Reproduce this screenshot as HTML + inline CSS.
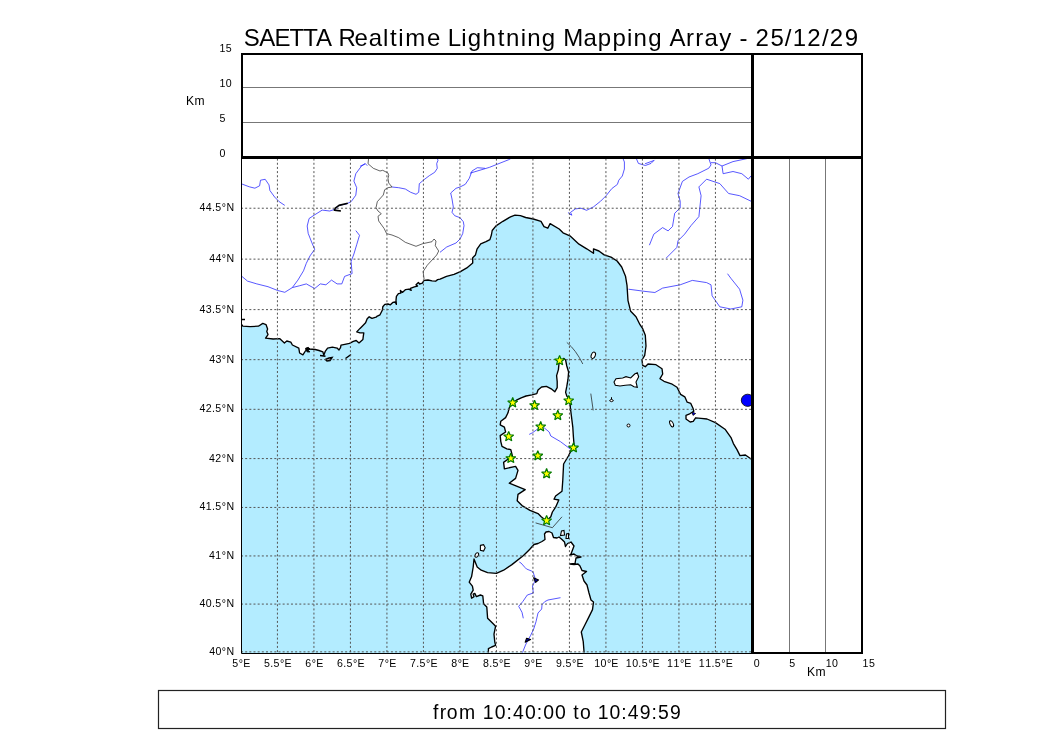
<!DOCTYPE html>
<html><head><meta charset="utf-8"><style>
html,body{margin:0;padding:0;background:#fff;width:1050px;height:750px;overflow:hidden}
svg{display:block;will-change:transform;font-family:"Liberation Sans",sans-serif;fill:#000}
</style></head><body>
<svg width="1050" height="750" viewBox="0 0 1050 750">
<rect width="1050" height="750" fill="#fff"/>
<text x="243.81 259.31 274.50 289.49 303.30 315.91 332.16 338.51 354.51 368.67 383.00 389.99 398.30 405.34 426.91 441.01 447.77 461.37 467.82 482.49 497.72 506.12 520.71 527.15 541.84 556.20 563.16 583.38 597.82 612.49 627.07 633.51 648.20 662.56 669.45 686.12 695.32 704.55 719.16 732.23 739.40 747.90 755.57 770.38 784.82 792.64 807.32 822.02 829.84 844.64" y="45.70" font-size="24.0" >SAETTA Realtime Lightning Mapping Array - 25/12/29</text>
<defs><clipPath id="mc"><rect x="241.15" y="156.5" width="510.5" height="496.5"/></clipPath></defs>
<g clip-path="url(#mc)">
<path d="M241.5,324.5 L242.8,326.2 L250.0,326.6 L258.4,326.2 L262.8,323.4 L266.0,324.6 L267.6,329.0 L266.8,331.4 L268.0,334.6 L265.6,338.2 L273.2,339.0 L279.6,338.6 L284.4,343.0 L286.8,341.0 L290.8,342.2 L292.4,345.0 L298.8,348.2 L299.6,353.0 L302.9,354.8 L305.7,350.5 L307.1,348.1 L309.5,349.0 L315.2,349.5 L319.0,350.5 L322.9,351.9 L323.8,355.2 L325.2,351.4 L327.6,348.1 L332.4,347.1 L337.1,348.1 L339.0,350.0 L340.5,347.6 L341.0,345.2 L344.8,344.3 L349.5,343.3 L353.3,341.4 L356.2,340.5 L359.0,342.9 L362.9,339.5 L363.3,336.2 L363.8,332.9 L360.0,332.9 L356.7,331.9 L360.0,328.4 L363.2,325.2 L365.6,322.8 L367.2,318.8 L369.2,316.8 L372.0,318.4 L376.0,317.2 L376.8,316.4 L380.0,314.8 L382.4,310.0 L382.8,306.8 L384.8,304.4 L388.0,304.0 L390.4,304.8 L392.8,302.4 L395.2,302.0 L396.4,304.4 L396.0,300.4 L396.4,296.4 L398.4,293.6 L400.8,293.2 L400.4,290.4 L402.4,292.4 L405.6,289.6 L408.8,289.2 L411.2,290.4 L410.4,288.4 L414.4,286.8 L417.6,286.0 L416.0,284.8 L418.4,282.4 L419.6,284.0 L422.4,283.2 L424.0,280.4 L428.0,280.0 L432.0,280.8 L435.6,281.2 L437.6,279.6 L440.1,279.1 L446.5,276.4 L454.0,274.3 L460.4,271.6 L466.8,267.9 L472.7,263.1 L472.7,257.7 L475.4,255.1 L477.0,249.2 L480.7,243.9 L486.0,241.7 L489.9,239.6 L491.4,235.0 L492.2,230.5 L496.0,225.9 L502.9,221.3 L510.5,216.8 L515.0,215.2 L520.4,215.7 L525.7,217.5 L533.3,219.0 L541.0,221.3 L544.0,226.7 L547.8,228.2 L550.1,223.6 L559.2,229.0 L563.0,232.8 L569.9,235.8 L579.0,244.2 L586.7,248.8 L593.5,253.3 L593.5,248.8 L598.9,251.0 L604.2,254.9 L611.0,257.1 L617.1,261.0 L621.7,267.0 L625.5,276.2 L627.0,285.3 L628.0,300.7 L630.7,311.3 L636.0,316.7 L640.0,324.7 L642.7,328.7 L645.3,335.3 L646.0,346.0 L644.7,355.3 L642.0,360.0 L642.7,365.3 L645.3,366.7 L648.0,364.0 L656.0,364.7 L662.0,368.7 L662.7,374.0 L660.0,378.7 L664.0,381.3 L672.2,384.2 L677.0,387.2 L679.4,392.0 L680.6,394.4 L684.8,396.8 L687.2,402.2 L690.8,403.4 L693.2,408.8 L693.8,411.2 L689.0,414.2 L686.0,415.4 L686.0,419.0 L690.2,422.0 L693.2,421.4 L695.6,417.8 L701.0,418.4 L707.0,419.0 L715.4,422.6 L725.0,429.2 L731.0,437.6 L733.4,443.6 L737.0,449.6 L740.0,455.6 L745.4,455.0 L751.5,459.3 L751.5,653 L241,653 Z" fill="#b3ecff" stroke="none"/>
<path d="M241.5,324.5 L242.8,326.2 L250.0,326.6 L258.4,326.2 L262.8,323.4 L266.0,324.6 L267.6,329.0 L266.8,331.4 L268.0,334.6 L265.6,338.2 L273.2,339.0 L279.6,338.6 L284.4,343.0 L286.8,341.0 L290.8,342.2 L292.4,345.0 L298.8,348.2 L299.6,353.0 L302.9,354.8 L305.7,350.5 L307.1,348.1 L309.5,349.0 L315.2,349.5 L319.0,350.5 L322.9,351.9 L323.8,355.2 L325.2,351.4 L327.6,348.1 L332.4,347.1 L337.1,348.1 L339.0,350.0 L340.5,347.6 L341.0,345.2 L344.8,344.3 L349.5,343.3 L353.3,341.4 L356.2,340.5 L359.0,342.9 L362.9,339.5 L363.3,336.2 L363.8,332.9 L360.0,332.9 L356.7,331.9 L360.0,328.4 L363.2,325.2 L365.6,322.8 L367.2,318.8 L369.2,316.8 L372.0,318.4 L376.0,317.2 L376.8,316.4 L380.0,314.8 L382.4,310.0 L382.8,306.8 L384.8,304.4 L388.0,304.0 L390.4,304.8 L392.8,302.4 L395.2,302.0 L396.4,304.4 L396.0,300.4 L396.4,296.4 L398.4,293.6 L400.8,293.2 L400.4,290.4 L402.4,292.4 L405.6,289.6 L408.8,289.2 L411.2,290.4 L410.4,288.4 L414.4,286.8 L417.6,286.0 L416.0,284.8 L418.4,282.4 L419.6,284.0 L422.4,283.2 L424.0,280.4 L428.0,280.0 L432.0,280.8 L435.6,281.2 L437.6,279.6 L440.1,279.1 L446.5,276.4 L454.0,274.3 L460.4,271.6 L466.8,267.9 L472.7,263.1 L472.7,257.7 L475.4,255.1 L477.0,249.2 L480.7,243.9 L486.0,241.7 L489.9,239.6 L491.4,235.0 L492.2,230.5 L496.0,225.9 L502.9,221.3 L510.5,216.8 L515.0,215.2 L520.4,215.7 L525.7,217.5 L533.3,219.0 L541.0,221.3 L544.0,226.7 L547.8,228.2 L550.1,223.6 L559.2,229.0 L563.0,232.8 L569.9,235.8 L579.0,244.2 L586.7,248.8 L593.5,253.3 L593.5,248.8 L598.9,251.0 L604.2,254.9 L611.0,257.1 L617.1,261.0 L621.7,267.0 L625.5,276.2 L627.0,285.3 L628.0,300.7 L630.7,311.3 L636.0,316.7 L640.0,324.7 L642.7,328.7 L645.3,335.3 L646.0,346.0 L644.7,355.3 L642.0,360.0 L642.7,365.3 L645.3,366.7 L648.0,364.0 L656.0,364.7 L662.0,368.7 L662.7,374.0 L660.0,378.7 L664.0,381.3 L672.2,384.2 L677.0,387.2 L679.4,392.0 L680.6,394.4 L684.8,396.8 L687.2,402.2 L690.8,403.4 L693.2,408.8 L693.8,411.2 L689.0,414.2 L686.0,415.4 L686.0,419.0 L690.2,422.0 L693.2,421.4 L695.6,417.8 L701.0,418.4 L707.0,419.0 L715.4,422.6 L725.0,429.2 L731.0,437.6 L733.4,443.6 L737.0,449.6 L740.0,455.6 L745.4,455.0 L751.5,459.3" stroke="#000" stroke-width="1.35" fill="none" stroke-linejoin="round"/>
<path d="M563.6,358.4 L565.6,360.0 L566.8,366.0 L568.6,372.0 L568.0,379.2 L566.8,386.4 L565.6,392.4 L566.8,396.0 L569.8,399.6 L570.4,408.0 L571.6,417.6 L572.8,427.2 L573.4,436.8 L574.0,444.0 L573.2,446.4 L568.4,456.0 L563.6,464.0 L562.8,480.0 L562.0,491.2 L555.6,496.0 L554.0,499.2 L558.8,500.0 L555.6,507.2 L552.4,512.0 L550.8,516.8 L547.6,520.0 L544.4,519.2 L541.2,516.8 L538.0,513.6 L530.0,510.4 L522.0,505.6 L517.2,500.8 L518.0,494.4 L525.2,489.6 L517.2,486.4 L509.2,483.2 L515.6,478.4 L518.0,470.4 L515.6,466.4 L504.4,468.8 L503.6,462.4 L512.4,456.0 L510.8,449.6 L506.8,448.8 L502.0,446.4 L500.8,441.6 L500.2,435.6 L505.6,432.0 L504.4,427.2 L500.2,424.8 L500.8,421.2 L505.6,417.6 L508.0,412.8 L509.2,408.0 L511.6,403.2 L516.4,400.2 L521.2,397.8 L526.0,396.0 L532.0,394.8 L536.8,393.6 L538.0,390.0 L541.6,387.0 L546.4,386.4 L551.2,388.8 L554.8,391.8 L557.2,387.6 L557.2,381.6 L556.6,375.6 L558.4,369.6 L559.0,363.6Z" fill="#fff" stroke="#000" stroke-width="1.35" stroke-linejoin="round"/>
<path d="M488.4,652.5 L488.4,648.6 L491.6,647.0 L495.6,645.4 L494.8,642.2 L494.0,634.2 L495.6,626.2 L493.2,623.8 L487.6,618.2 L486.8,607.0 L483.6,603.8 L482.8,595.8 L480.4,595.0 L476.4,596.6 L474.8,593.4 L473.2,594.2 L474.0,596.6 L471.6,598.2 L470.8,594.2 L473.2,590.2 L472.4,586.2 L469.2,582.2 L471.6,576.6 L473.2,567.0 L474.0,559.0 L477.2,567.0 L481.2,570.2 L487.6,572.6 L496.4,573.4 L503.6,570.2 L511.9,564.6 L523.5,555.5 L529.1,549.9 L530.0,549.0 L534.0,544.5 L538.0,543.5 L542.0,541.5 L545.0,539.5 L544.5,534.0 L546.0,532.0 L549.0,531.5 L552.0,533.0 L553.5,537.5 L557.0,538.0 L559.0,537.0 L562.0,539.5 L564.5,542.0 L565.5,546.5 L567.5,543.5 L571.0,542.0 L574.0,546.0 L572.5,550.0 L571.0,554.0 L570.0,555.0 L574.0,554.0 L577.0,556.0 L581.0,557.0 L576.0,558.0 L575.0,563.5 L570.0,564.0 L574.0,564.5 L578.0,564.0 L580.0,566.0 L582.0,570.5 L586.5,571.5 L582.0,575.0 L584.0,581.0 L587.0,585.0 L589.0,593.0 L591.0,600.0 L593.5,602.1 L592.5,609.6 L588.8,617.1 L585.1,624.5 L581.3,632.0 L583.2,641.3 L584.1,652.5" fill="#fff" stroke="#000" stroke-width="1.35" stroke-linejoin="round"/>
<path d="M614.0,382.0 L616.0,378.7 L622.7,378.0 L626.0,376.7 L630.7,378.0 L634.7,374.0 L637.3,372.7 L638.7,376.7 L636.0,382.0 L637.3,387.3 L634.0,386.7 L630.7,384.7 L625.3,385.3 L620.0,386.0 L615.3,385.3Z" fill="#fff" stroke="#000" stroke-width="1.1"/>
<path d="M241.9,184.0 L249.3,186.8 L254.9,188.2 L259.6,185.8 L260.5,180.2 L265.2,179.3 L269.0,184.9 L269.9,190.5 L274.6,197.0 L279.2,201.7 L284.8,205.4" stroke="#2020ff" stroke-width="0.75" fill="none" stroke-linejoin="round"/>
<path d="M365.3,163.7 L361.4,166.2 L355.8,173.7 L353.9,181.1 L356.7,187.7 L355.8,195.2 L351.1,201.7 L346.5,203.9 L339.0,205.4 L335.3,209.2 L329.7,211.0 L322.2,210.1 L314.7,214.8 L309.1,218.5 L307.2,226.0 L308.2,233.4 L311.9,242.8 L314.7,249.3 L310.0,255.9 L306.3,263.3 L303.5,270.8 L297.9,280.1 L292.3,287.6" stroke="#2020ff" stroke-width="0.75" fill="none" stroke-linejoin="round"/>
<path d="M360.0,166.3 L365.3,163.7 L367.3,165.7" stroke="#2020ff" stroke-width="0.75" fill="none" stroke-linejoin="round"/>
<path d="M241.9,276.4 L247.5,281.1 L256.8,283.9 L268.0,286.7 L277.4,290.4 L284.8,292.3 L292.3,287.6 L299.8,285.7 L306.3,283.9 L314.7,288.5 L320.3,283.9 L325.9,284.8 L331.5,280.1 L337.1,283.9 L341.8,283.9 L344.6,276.4 L352.1,273.6 L351.1,261.5 L353.9,254.0 L356.7,244.7 L359.5,235.3 L355.8,230.6" stroke="#2020ff" stroke-width="0.75" fill="none" stroke-linejoin="round"/>
<path d="M392.0,187.0 L398.7,187.7 L405.3,189.0 L410.7,192.3 L416.0,194.3 L418.7,192.3 L419.3,183.7 L424.0,179.7 L429.3,175.7 L434.7,172.3 L437.3,168.3 L436.7,163.7 L438.0,160.3 L437.3,158.5" stroke="#2020ff" stroke-width="0.75" fill="none" stroke-linejoin="round"/>
<path d="M485.0,168.3 L477.3,167.7 L472.0,171.0 L469.3,178.3 L465.3,184.3 L460.0,187.0 L456.0,188.3 L450.7,193.0 L452.0,199.0 L453.3,207.0 L452.0,212.3 L454.7,215.7 L460.0,217.7 L463.3,221.7 L464.0,225.7 L462.7,233.7 L460.0,239.0 L456.0,243.0 L446.7,247.0 L440.0,252.3" stroke="#2020ff" stroke-width="0.75" fill="none" stroke-linejoin="round"/>
<path d="M470.0,173.2 L489.3,167.4 L508.7,159.7 L512.5,157.5" stroke="#2020ff" stroke-width="0.75" fill="none" stroke-linejoin="round"/>
<path d="M623.0,158.5 L624.4,162.0 L624.4,169.0 L622.3,176.0 L618.8,180.2 L617.4,184.4 L611.8,188.6 L606.2,195.6 L600.6,201.2 L593.6,206.8 L586.6,210.3 L581.0,208.2 L575.4,208.9 L570.5,212.4 L571.9,215.2 L569.1,213.8 L568.4,212.4" stroke="#2020ff" stroke-width="0.75" fill="none" stroke-linejoin="round"/>
<path d="M636.3,158.5 L638.4,163.4 L645.4,165.5 L651.0,163.4 L654.5,159.9" stroke="#2020ff" stroke-width="0.75" fill="none" stroke-linejoin="round"/>
<path d="M645.0,163.8 L653.8,160.5" stroke="#2020ff" stroke-width="0.75" fill="none" stroke-linejoin="round"/>
<path d="M708.8,158.5 L711.0,164.9 L708.8,168.2 L697.8,173.7 L689.0,177.0 L682.4,181.4 L678.0,193.5 L680.2,201.2 L680.2,207.8 L674.7,213.3 L672.5,226.5 L668.1,230.9 L662.6,227.6 L653.8,234.2 L649.4,245.2" stroke="#2020ff" stroke-width="0.75" fill="none" stroke-linejoin="round"/>
<path d="M711.0,162.7 L715.4,162.7 L722.0,166.0 L723.1,173.7 L733.0,171.5 L741.8,173.7 L748.4,179.2 L751.0,175.9" stroke="#2020ff" stroke-width="0.75" fill="none" stroke-linejoin="round"/>
<path d="M722.0,166.0 L733.0,161.6 L748.4,158.3" stroke="#2020ff" stroke-width="0.75" fill="none" stroke-linejoin="round"/>
<path d="M751.0,201.2 L739.6,195.7 L728.6,193.5 L719.8,183.6 L706.6,179.2 L698.9,186.9 L701.1,195.7 L698.9,216.6 L691.2,225.4 L684.6,234.2 L678.0,240.8 L676.9,247.4 L665.9,258.4" stroke="#2020ff" stroke-width="0.75" fill="none" stroke-linejoin="round"/>
<path d="M628.5,289.2 L645.0,291.4 L654.9,292.5 L662.6,288.1 L680.2,284.8 L692.3,280.4 L706.6,282.6 L711.0,284.8 L712.1,295.8 L719.8,306.8 L730.8,309.0 L741.8,306.8 L742.9,300.2 L739.6,289.2 L730.8,278.2 L727.5,273.7" stroke="#2020ff" stroke-width="0.75" fill="none" stroke-linejoin="round"/>
<path d="M519.3,562.0 L521.0,563.0 L525.0,567.5 L526.5,569.0 L531.5,571.0 L533.3,572.5 L534.0,575.0 L535.6,579.5 L535.0,581.0 L532.5,586.0 L533.3,593.0 L527.3,595.0 L522.7,601.7 L518.7,606.3 L522.0,612.3 L523.3,618.3" stroke="#2020ff" stroke-width="0.75" fill="none" stroke-linejoin="round"/>
<path d="M560.5,597.7 L548.0,600.0 L544.7,601.7 L542.0,604.7 L541.7,609.0 L538.0,613.0 L536.0,621.7 L533.7,629.0 L530.7,635.3 L528.0,640.0 L525.5,645.0 L522.5,652.5" stroke="#2020ff" stroke-width="0.75" fill="none" stroke-linejoin="round"/>
<path d="M529.2,434.4 L532.4,432.8 L538.0,428.8 L544.4,428.0 L549.2,432.0 L550.8,436.0 L560.4,441.6 L570.0,448.8" stroke="#2020ff" stroke-width="0.75" fill="none" stroke-linejoin="round"/>
<path d="M368.7,157.5 L368.0,163.7 L373.3,168.3 L380.0,171.0 L382.7,170.3 L388.0,173.0 L388.7,175.7 L388.0,178.3 L388.7,183.0 L392.0,187.0 L388.0,187.7 L384.7,189.7 L383.3,195.0 L377.3,201.7 L376.0,207.7 L378.0,211.0 L381.3,213.7 L378.0,216.3 L378.7,221.0 L384.0,228.3 L386.7,233.7 L392.0,235.0 L398.7,237.7 L405.3,242.3 L416.0,246.3 L422.7,243.7 L432.0,241.7 L434.0,239.0 L436.0,241.0 L435.3,245.7 L438.7,251.0 L436.7,255.0 L427.3,265.2 L423.1,271.6 L424.1,279.1" stroke="#222" stroke-width="0.7" fill="none" stroke-linejoin="round"/>
<path d="M533.6,577.8 L538.6,579.9 L535.7,582.4 Z M525.2,642.3 L526.6,638.2 L530.6,639.6 Z" fill="#0000b0" stroke="#000" stroke-width="1.1" stroke-linejoin="round"/>
<path d="M480.4,545.4 L483.6,544.6 L485.2,547.8 L483.6,551 L480.4,550.2 Z" fill="#fff" stroke="#000" stroke-width="1.1"/>
<ellipse cx="476.8" cy="555" rx="1.6" ry="2.4" fill="#fff" stroke="#000" stroke-width="1" transform="rotate(30 476.8 555)"/>
<path d="M560.5,535.5 L561.5,531 L564,530.5 L564.5,535 Z M566,538.5 L566.5,534 L568.5,533.5 L568.5,538.5 Z" fill="#fff" stroke="#000" stroke-width="1.1"/>
<path d="M320,355.6 L325.5,356.3 M325.5,359.5 L329,358 L332,357.5 L330,360.5 L327,361 Z M345.5,358.5 L351,354.5" stroke="#000" stroke-width="1.5" fill="#fff"/>
<path d="M241.5,319.5 H245" stroke="#000" stroke-width="1.3"/>
<path d="M305.5,348.3 L308.5,347.4 L310,349.2 L307.8,350 L309.8,352 L307,351.8 Z" fill="#000" stroke="#000" stroke-width="1"/>
<ellipse cx="593.3" cy="355.3" rx="2.0" ry="3.3" fill="#fff" stroke="#000" stroke-width="1" transform="rotate(22 593.3 355.3)"/>
<ellipse cx="671.6" cy="423.8" rx="1.6" ry="3.3" fill="#fff" stroke="#000" stroke-width="1" transform="rotate(-25 671.6 423.8)"/>
<circle cx="628.5" cy="425.5" r="1.5" fill="#fff" stroke="#000" stroke-width="1"/>
<path d="M609.6,400.8 Q611.5,397.6 613.4,400.8 Q611.5,402.6 609.6,400.8 Z M611.5,399.5 V397.2" fill="#fff" stroke="#000" stroke-width="1"/>
<ellipse cx="747.6" cy="400.3" rx="6.3" ry="6.1" fill="#0000ff" stroke="#000" stroke-width="0.8"/>
<path d="M692,412 L695.6,413.5 L693,415.4 Z" fill="#0000ff" stroke="#000" stroke-width="0.8"/>
<path d="M347.8,203.2 L339,205.4 L335.3,208.2 L334.3,210.1 L340.9,211" stroke="#000" stroke-width="1.6" fill="none" stroke-linejoin="round"/>
<path d="M566.8,342.4 Q576,350 582.8,364 M590.8,393.6 L593.2,410.4 M535.6,522.9 L552.4,527.7 L562,516.8" stroke="#222" stroke-width="0.75" fill="none"/>
<path d="M277.43,156.5 V653 M313.93,156.5 V653 M350.43,156.5 V653 M386.93,156.5 V653 M423.43,156.5 V653 M459.93,156.5 V653 M496.43,156.5 V653 M532.93,156.5 V653 M569.43,156.5 V653 M605.93,156.5 V653 M642.43,156.5 V653 M678.93,156.5 V653 M715.43,156.5 V653" stroke="#555" stroke-width="1" stroke-dasharray="2,2.165" stroke-dashoffset="2.065" fill="none"/>
<path d="M241,651.85 H752 M241,604.08 H752 M241,555.95 H752 M241,507.45 H752 M241,458.58 H752 M241,409.32 H752 M241,359.67 H752 M241,309.61 H752 M241,259.14 H752 M241,208.23 H752" stroke="#555" stroke-width="1" stroke-dasharray="2,2.165" fill="none"/>
<path d="M559.60,355.40 L560.91,358.79 L564.55,358.99 L561.73,361.29 L562.66,364.81 L559.60,362.84 L556.54,364.81 L557.47,361.29 L554.65,358.99 L558.29,358.79Z" fill="#ffff00" stroke="#007800" stroke-width="1.2" stroke-linejoin="miter" stroke-miterlimit="1.5"/>
<path d="M512.70,397.50 L514.01,400.89 L517.65,401.09 L514.83,403.39 L515.76,406.91 L512.70,404.94 L509.64,406.91 L510.57,403.39 L507.75,401.09 L511.39,400.89Z" fill="#ffff00" stroke="#007800" stroke-width="1.2" stroke-linejoin="miter" stroke-miterlimit="1.5"/>
<path d="M534.60,400.20 L535.91,403.59 L539.55,403.79 L536.73,406.09 L537.66,409.61 L534.60,407.64 L531.54,409.61 L532.47,406.09 L529.65,403.79 L533.29,403.59Z" fill="#ffff00" stroke="#007800" stroke-width="1.2" stroke-linejoin="miter" stroke-miterlimit="1.5"/>
<path d="M568.70,395.40 L570.01,398.79 L573.65,398.99 L570.83,401.29 L571.76,404.81 L568.70,402.84 L565.64,404.81 L566.57,401.29 L563.75,398.99 L567.39,398.79Z" fill="#ffff00" stroke="#007800" stroke-width="1.2" stroke-linejoin="miter" stroke-miterlimit="1.5"/>
<path d="M557.80,410.30 L559.11,413.69 L562.75,413.89 L559.93,416.19 L560.86,419.71 L557.80,417.74 L554.74,419.71 L555.67,416.19 L552.85,413.89 L556.49,413.69Z" fill="#ffff00" stroke="#007800" stroke-width="1.2" stroke-linejoin="miter" stroke-miterlimit="1.5"/>
<path d="M540.70,421.50 L542.01,424.89 L545.65,425.09 L542.83,427.39 L543.76,430.91 L540.70,428.94 L537.64,430.91 L538.57,427.39 L535.75,425.09 L539.39,424.89Z" fill="#ffff00" stroke="#007800" stroke-width="1.2" stroke-linejoin="miter" stroke-miterlimit="1.5"/>
<path d="M508.70,431.40 L510.01,434.79 L513.65,434.99 L510.83,437.29 L511.76,440.81 L508.70,438.84 L505.64,440.81 L506.57,437.29 L503.75,434.99 L507.39,434.79Z" fill="#ffff00" stroke="#007800" stroke-width="1.2" stroke-linejoin="miter" stroke-miterlimit="1.5"/>
<path d="M573.50,442.60 L574.81,445.99 L578.45,446.19 L575.63,448.49 L576.56,452.01 L573.50,450.04 L570.44,452.01 L571.37,448.49 L568.55,446.19 L572.19,445.99Z" fill="#ffff00" stroke="#007800" stroke-width="1.2" stroke-linejoin="miter" stroke-miterlimit="1.5"/>
<path d="M537.80,450.60 L539.11,453.99 L542.75,454.19 L539.93,456.49 L540.86,460.01 L537.80,458.04 L534.74,460.01 L535.67,456.49 L532.85,454.19 L536.49,453.99Z" fill="#ffff00" stroke="#007800" stroke-width="1.2" stroke-linejoin="miter" stroke-miterlimit="1.5"/>
<path d="M510.80,453.20 L512.11,456.59 L515.75,456.79 L512.93,459.09 L513.86,462.61 L510.80,460.64 L507.74,462.61 L508.67,459.09 L505.85,456.79 L509.49,456.59Z" fill="#ffff00" stroke="#007800" stroke-width="1.2" stroke-linejoin="miter" stroke-miterlimit="1.5"/>
<path d="M546.60,468.50 L547.91,471.89 L551.55,472.09 L548.73,474.39 L549.66,477.91 L546.60,475.94 L543.54,477.91 L544.47,474.39 L541.65,472.09 L545.29,471.89Z" fill="#ffff00" stroke="#007800" stroke-width="1.2" stroke-linejoin="miter" stroke-miterlimit="1.5"/>
<path d="M546.60,515.40 L547.91,518.79 L551.55,518.99 L548.73,521.29 L549.66,524.81 L546.60,522.84 L543.54,524.81 L544.47,521.29 L541.65,518.99 L545.29,518.79Z" fill="#ffff00" stroke="#007800" stroke-width="1.2" stroke-linejoin="miter" stroke-miterlimit="1.5"/>
</g>
<path d="M241.5,157 V653.5 H752" fill="none" stroke="#000" stroke-width="1"/>
<path d="M242,87.5 H752 M242,122.5 H752 M789.5,157 V652 M825.5,157 V652" stroke="#777" stroke-width="1"/>
<path d="M242,157 V54 H862 V653 H752" fill="none" stroke="#000" stroke-width="2"/>
<path d="M241,157.5 H863 M752.5,53 V654" stroke="#000" stroke-width="3"/>
<text x="219.43 225.81" y="52.00" font-size="10.6" >15</text>
<text x="219.43 225.81" y="87.00" font-size="10.6" >10</text>
<text x="219.43" y="122.00" font-size="10.6" >5</text>
<text x="219.43" y="157.00" font-size="10.6" >0</text>
<text x="186.07 194.54" y="105.00" font-size="12.1" >Km</text>
<text x="199.50 205.75 211.89 215.25 221.78 226.43" y="211.23" font-size="10.6" >44.5°N</text>
<text x="209.13 215.38 221.78 226.43" y="262.14" font-size="10.6" >44°N</text>
<text x="199.50 205.75 211.89 215.25 221.78 226.43" y="312.61" font-size="10.6" >43.5°N</text>
<text x="209.13 215.38 221.78 226.43" y="362.67" font-size="10.6" >43°N</text>
<text x="199.38 205.63 211.89 215.25 221.78 226.43" y="412.32" font-size="10.6" >42.5°N</text>
<text x="209.00 215.25 221.78 226.43" y="461.58" font-size="10.6" >42°N</text>
<text x="199.38 205.63 211.89 215.25 221.78 226.43" y="510.45" font-size="10.6" >41.5°N</text>
<text x="209.00 215.25 221.78 226.43" y="558.95" font-size="10.6" >41°N</text>
<text x="199.50 205.75 211.89 215.25 221.78 226.43" y="607.08" font-size="10.6" >40.5°N</text>
<text x="209.13 215.38 221.78 226.43" y="654.85" font-size="10.6" >40°N</text>
<text x="232.25 238.78 243.14" y="667.00" font-size="10.6" >5°E</text>
<text x="263.94 270.20 273.57 280.09 284.46" y="667.00" font-size="10.6" >5.5°E</text>
<text x="305.25 311.78 316.14" y="667.00" font-size="10.6" >6°E</text>
<text x="336.94 343.20 346.57 353.09 357.46" y="667.00" font-size="10.6" >6.5°E</text>
<text x="378.25 384.78 389.14" y="667.00" font-size="10.6" >7°E</text>
<text x="409.94 416.20 419.57 426.09 430.46" y="667.00" font-size="10.6" >7.5°E</text>
<text x="451.32 457.71 462.08" y="667.00" font-size="10.6" >8°E</text>
<text x="483.00 489.14 492.50 499.03 503.39" y="667.00" font-size="10.6" >8.5°E</text>
<text x="524.25 530.78 535.14" y="667.00" font-size="10.6" >9°E</text>
<text x="555.94 562.20 565.57 572.09 576.46" y="667.00" font-size="10.6" >9.5°E</text>
<text x="594.13 600.50 606.90 611.27" y="667.00" font-size="10.6" >10°E</text>
<text x="625.82 632.19 638.32 641.69 648.21 652.58" y="667.00" font-size="10.6" >10.5°E</text>
<text x="667.07 673.44 679.96 684.33" y="667.00" font-size="10.6" >11°E</text>
<text x="698.75 705.13 711.39 714.75 721.28 725.64" y="667.00" font-size="10.6" >11.5°E</text>
<text x="753.73" y="667.00" font-size="10.6" >0</text>
<text x="789.23" y="667.00" font-size="10.6" >5</text>
<text x="825.73 832.11" y="667.00" font-size="10.6" >10</text>
<text x="862.53 868.91" y="667.00" font-size="10.6" >15</text>
<text x="807.07 815.54" y="675.70" font-size="12.1" >Km</text>
<rect x="158.5" y="690.5" width="787" height="38" fill="none" stroke="#222" stroke-width="1.2"/>
<text x="433.11 439.63 446.86 458.95 476.54 482.84 494.71 506.47 512.96 524.96 536.72 543.21 555.09 566.67 573.37 580.11 591.42 597.71 609.59 621.35 627.84 639.84 651.60 658.09 669.96" y="719.00" font-size="19.4" >from 10:40:00 to 10:49:59</text>
</svg>
</body></html>
